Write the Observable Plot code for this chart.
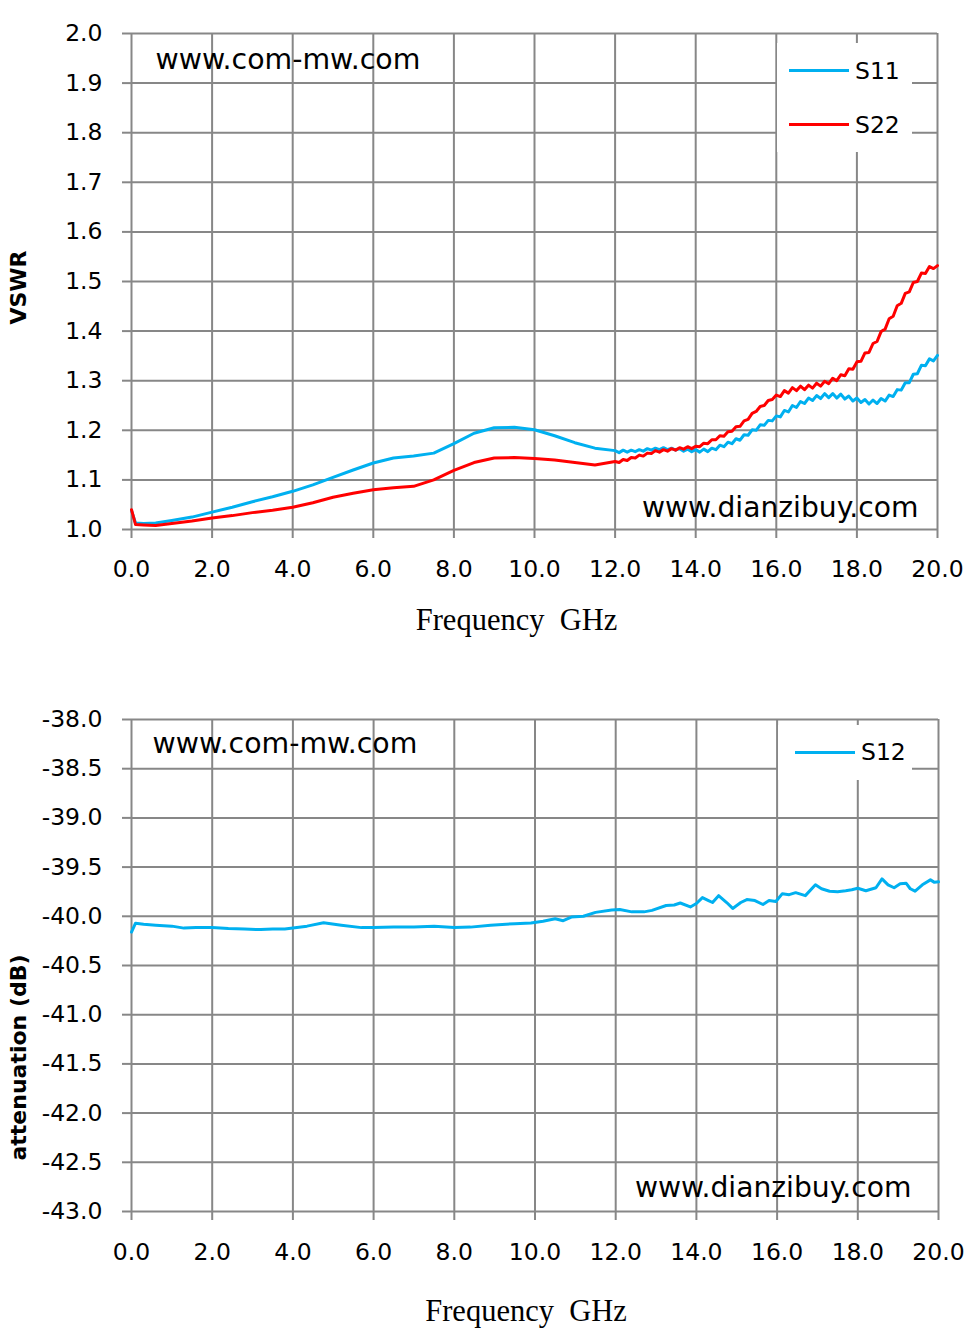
<!DOCTYPE html>
<html>
<head>
<meta charset="utf-8">
<script src="https://cdn.jsdelivr.net/npm/d3@7"></script>
<script src="https://cdn.jsdelivr.net/npm/@observablehq/plot@0.6"></script>
<style>
  html, body { margin: 0; padding: 0; background: #fff; }
  #wrap { position: relative; width: 978px; height: 1331px; overflow: hidden; }
  #wrap svg { display: block; }
  .leg { position: absolute; background: #fff; }
  .leg .sw { position: absolute; height: 3px; }
  .leg .lt { position: absolute; height: 30px; line-height: 30px; font: 23.5px "DejaVu Sans", sans-serif; color: #000; white-space: nowrap; }
</style>
</head>
<body>
<div id="wrap">
  <div id="chartTop"></div>
  <div id="chartBot"></div>
  <div class="leg" style="left:777px;top:43px;width:135px;height:109px">
    <div class="sw" style="left:12px;top:26px;width:60px;background:#00B0F0"></div>
    <div class="lt" style="left:78px;top:14px">S11</div>
    <div class="sw" style="left:12px;top:80px;width:60px;background:#FF0000"></div>
    <div class="lt" style="left:78px;top:68px">S22</div>
  </div>
  <div class="leg" style="left:778px;top:725px;width:134px;height:55px">
    <div class="sw" style="left:17px;top:26px;width:60px;background:#00B0F0"></div>
    <div class="lt" style="left:83px;top:13px">S12</div>
  </div>
</div>
<script>
// ---------- data ----------
const freqA = [0, 0.1, 0.3, 0.6, 1.0, 1.5, 2.0, 2.5, 3.0, 3.5, 4.0, 4.5, 5.0, 5.5, 6.0, 6.5, 7.0, 7.5, 8.0, 8.5, 9.0, 9.5, 10.0, 10.5, 11.0, 11.5,
  12.0, 12.1, 12.2, 12.3, 12.4, 12.5, 12.6, 12.7, 12.8, 12.9,
  13.0, 13.1, 13.2, 13.3, 13.4, 13.5, 13.6, 13.7, 13.8, 13.9,
  14.0, 14.1, 14.2, 14.3, 14.4, 14.5, 14.6, 14.7, 14.8, 14.9,
  15.0, 15.1, 15.2, 15.3, 15.4, 15.5, 15.6, 15.7, 15.8, 15.9,
  16.0, 16.1, 16.2, 16.3, 16.4, 16.5, 16.6, 16.7, 16.8, 16.9,
  17.0, 17.1, 17.2, 17.3, 17.4, 17.5, 17.6, 17.7, 17.8, 17.9,
  18.0, 18.1, 18.2, 18.3, 18.4, 18.5, 18.6, 18.7, 18.8, 18.9,
  19.0, 19.1, 19.2, 19.3, 19.4, 19.5, 19.6, 19.7, 19.8, 19.9, 20.0];

const s11 = [1.038, 1.013, 1.012, 1.013, 1.018, 1.025, 1.035, 1.045, 1.056, 1.066, 1.077, 1.090, 1.105, 1.120, 1.134, 1.144, 1.148, 1.154, 1.173, 1.194, 1.205, 1.206, 1.201, 1.189, 1.175, 1.164,
  1.159, 1.155, 1.160, 1.156, 1.160, 1.157, 1.161, 1.158, 1.163, 1.160,
  1.164, 1.161, 1.165, 1.161, 1.164, 1.160, 1.163, 1.158, 1.162, 1.157,
  1.161, 1.156, 1.162, 1.157, 1.164, 1.161, 1.170, 1.167, 1.176, 1.173,
  1.183, 1.180, 1.191, 1.190, 1.201, 1.200, 1.211, 1.210, 1.220, 1.219,
  1.229, 1.227, 1.240, 1.237, 1.250, 1.246, 1.258, 1.254, 1.265, 1.260,
  1.270, 1.264, 1.274, 1.266, 1.274, 1.265, 1.273, 1.263, 1.269, 1.259,
  1.265, 1.256, 1.262, 1.253, 1.261, 1.254, 1.264, 1.259, 1.271, 1.268,
  1.282, 1.281, 1.296, 1.296, 1.313, 1.314, 1.331, 1.330, 1.344, 1.340, 1.351];

const s22 = [1.040, 1.010, 1.009, 1.008, 1.012, 1.017, 1.023, 1.028, 1.034, 1.039, 1.045, 1.054, 1.065, 1.073, 1.080, 1.084, 1.087, 1.100, 1.119, 1.135, 1.144, 1.145, 1.143, 1.140, 1.135, 1.130,
  1.137, 1.135, 1.141, 1.139, 1.145, 1.144, 1.150, 1.148, 1.154, 1.153,
  1.159, 1.156, 1.161, 1.158, 1.163, 1.160, 1.165, 1.162, 1.167, 1.163,
  1.168, 1.167, 1.174, 1.173, 1.181, 1.181, 1.189, 1.188, 1.197, 1.198,
  1.207, 1.208, 1.219, 1.222, 1.234, 1.238, 1.248, 1.250, 1.260, 1.262,
  1.271, 1.268, 1.280, 1.275, 1.286, 1.280, 1.289, 1.282, 1.291, 1.285,
  1.295, 1.289, 1.299, 1.294, 1.305, 1.300, 1.312, 1.310, 1.324, 1.323,
  1.338, 1.339, 1.356, 1.357, 1.375, 1.379, 1.399, 1.404, 1.425, 1.430,
  1.451, 1.456, 1.476, 1.479, 1.498, 1.500, 1.517, 1.516, 1.530, 1.526, 1.532];

const freqB = [0, 0.1, 0.3, 0.6, 1.0, 1.3, 1.6, 2.0, 2.4, 2.8, 3.2, 3.5, 3.8, 4.0, 4.35, 4.76, 5.2, 5.7, 6.0, 6.5, 7.0, 7.5, 8.0, 8.4, 8.9, 9.5,
  9.9, 10.2, 10.5, 10.7, 10.9, 11.2, 11.5, 11.9, 12.1, 12.4, 12.7, 12.9, 13.25, 13.45, 13.6, 13.85,
  14.0, 14.15, 14.3, 14.4, 14.55, 14.75, 14.9, 15.1, 15.25, 15.45, 15.65, 15.8, 15.97,
  16.13, 16.3, 16.46, 16.7, 16.95, 17.1, 17.3, 17.5, 17.7, 17.85,
  18.0, 18.2, 18.45, 18.6, 18.75, 18.9, 19.05, 19.2, 19.3, 19.42, 19.6, 19.8, 19.9, 20.0];

const s12 = [-40.16, -40.07, -40.08, -40.09, -40.10, -40.12, -40.115, -40.115, -40.125, -40.13, -40.135, -40.13, -40.13, -40.12, -40.10, -40.065, -40.09, -40.115, -40.115, -40.11, -40.108, -40.10, -40.115, -40.11, -40.09, -40.075,
  -40.068, -40.05, -40.025, -40.045, -40.008, -40.0, -39.96, -39.935, -39.93, -39.955, -39.955, -39.94, -39.89, -39.885, -39.865, -39.905,
  -39.87, -39.81, -39.84, -39.86, -39.79, -39.86, -39.92, -39.86, -39.83, -39.84, -39.88, -39.84, -39.85,
  -39.77, -39.78, -39.76, -39.79, -39.68, -39.72, -39.745, -39.75, -39.74, -39.73,
  -39.715, -39.74, -39.71, -39.62, -39.68, -39.71, -39.67, -39.665, -39.72, -39.745, -39.68, -39.63, -39.655, -39.65];

const xTicks = [0, 2, 4, 6, 8, 10, 12, 14, 16, 18, 20];
const yTicksTop = [1.0, 1.1, 1.2, 1.3, 1.4, 1.5, 1.6, 1.7, 1.8, 1.9, 2.0];
const yTicksBot = [-43.0, -42.5, -42.0, -41.5, -41.0, -40.5, -40.0, -39.5, -39.0, -38.5, -38.0];

const xTitle = "Frequency  GHz";
const yTitleTop = "VSWR";
const yTitleBot = "attenuation (dB)";
const mark1 = "www.com-mw.com";
const mark2 = "www.dianzibuy.com";

// ---------- style ----------
const GRID = "#878787";
const BLUE = "#00B0F0";
const RED = "#FF0000";
const TICKFONT = "DejaVu Sans";

function frameMarks(xt, yt, padX) {
  return [
    Plot.gridX(xt, {stroke: GRID, strokeOpacity: 1, strokeWidth: 2}),
    Plot.gridY(yt, {stroke: GRID, strokeOpacity: 1, strokeWidth: 2}),
    Plot.axisX(xt, {tickSize: 9, tickPadding: padX, stroke: GRID, strokeWidth: 2, fill: "black",
      tickFormat: d => d.toFixed(1), fontSize: 23.5, fontFamily: TICKFONT, label: null}),
    Plot.axisY(yt, {tickSize: 9, tickPadding: 20, stroke: GRID, strokeWidth: 2, fill: "black",
      tickFormat: d => d.toFixed(1), fontSize: 23.5, fontFamily: TICKFONT, label: null})
  ];
}

const rowsS11 = freqA.map((f, i) => ({f, v: s11[i]}));
const rowsS22 = freqA.map((f, i) => ({f, v: s22[i]}));
const rowsS12 = freqB.map((f, i) => ({f, v: s12[i]}));

const plotTop = Plot.plot({
  width: 978, height: 660,
  marginTop: 33, marginBottom: 131, marginLeft: 131, marginRight: 41,
  style: {fontFamily: TICKFONT, background: "#fff", overflow: "visible"},
  x: {domain: [0, 20]},
  y: {domain: [1, 2]},
  marks: [
    ...frameMarks(xTicks, yTicksTop, 22),
    Plot.line(rowsS11, {x: "f", y: "v", stroke: BLUE, strokeWidth: 3, strokeLinejoin: "round"}),
    Plot.line(rowsS22, {x: "f", y: "v", stroke: RED, strokeWidth: 3, strokeLinejoin: "round"}),
    Plot.text([mark1], {text: d => d, frameAnchor: "top-left", textAnchor: "start", lineAnchor: "middle",
      dx: 24, dy: 26, fontSize: 28.4, fontFamily: "DejaVu Sans", fill: "black"}),
    Plot.text([mark2], {text: d => d, frameAnchor: "bottom-right", textAnchor: "end", lineAnchor: "middle",
      dx: -19, dy: -22, fontSize: 28.2, fontFamily: "DejaVu Sans", fill: "black"}),
    Plot.text([xTitle], {text: d => d, frameAnchor: "bottom", textAnchor: "middle", lineAnchor: "middle",
      dx: -18, dy: 91, fontSize: 30.5, fontFamily: "Liberation Serif", fill: "black"}),
    Plot.text([yTitleTop], {text: d => d, frameAnchor: "left", textAnchor: "middle", lineAnchor: "middle",
      rotate: -90, dx: -113, dy: 6, fontSize: 22, fontWeight: "bold", fontFamily: "DejaVu Sans", fill: "black"})
  ]
});

const plotBot = Plot.plot({
  width: 978, height: 671,
  marginTop: 59, marginBottom: 120, marginLeft: 131, marginRight: 40,
  style: {fontFamily: TICKFONT, background: "#fff", overflow: "visible"},
  x: {domain: [0, 20]},
  y: {domain: [-43, -38]},
  marks: [
    ...frameMarks(xTicks, yTicksBot, 23),
    Plot.line(rowsS12, {x: "f", y: "v", stroke: BLUE, strokeWidth: 3, strokeLinejoin: "round"}),
    Plot.text([mark1], {text: d => d, frameAnchor: "top-left", textAnchor: "start", lineAnchor: "middle",
      dx: 21, dy: 24, fontSize: 28.4, fontFamily: "DejaVu Sans", fill: "black"}),
    Plot.text([mark2], {text: d => d, frameAnchor: "bottom-right", textAnchor: "end", lineAnchor: "middle",
      dx: -27, dy: -24, fontSize: 28.2, fontFamily: "DejaVu Sans", fill: "black"}),
    Plot.text([xTitle], {text: d => d, frameAnchor: "bottom", textAnchor: "middle", lineAnchor: "middle",
      dx: -9, dy: 100, fontSize: 30.5, fontFamily: "Liberation Serif", fill: "black"}),
    Plot.text([yTitleBot], {text: d => d, frameAnchor: "left", textAnchor: "middle", lineAnchor: "middle",
      rotate: -90, dx: -113, dy: 92, fontSize: 22, fontWeight: "bold", fontFamily: "DejaVu Sans", fill: "black"})
  ]
});

document.getElementById("chartTop").appendChild(plotTop);
document.getElementById("chartBot").appendChild(plotBot);
</script>
</body>
</html>
